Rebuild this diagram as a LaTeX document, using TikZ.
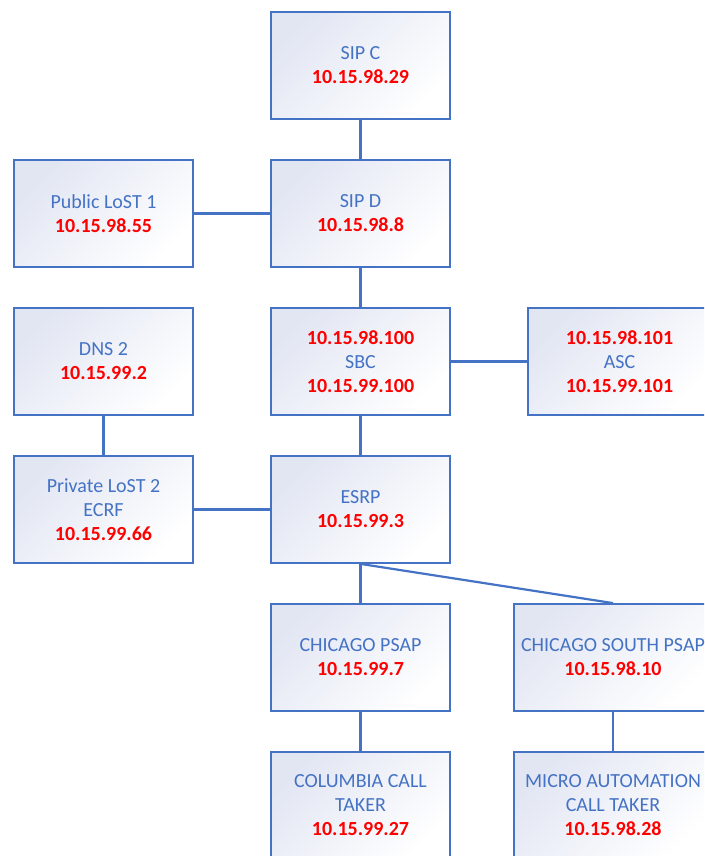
\documentclass[tikz,border=0pt]{standalone}
\usepackage{fontspec}
\setmainfont{Carlito}
\definecolor{boxblue}{HTML}{4472C4}
\definecolor{boxtint}{HTML}{E2E6F3}
\definecolor{ipred}{HTML}{FF0000}
\newcommand{\ip}[1]{\textcolor{ipred}{\textbf{#1}}}
\tikzset{
  unit/.style={draw=boxblue, line width=1.8pt, shading=axis, top color=boxtint,
    bottom color=white, shading angle=45, minimum width=179pt, minimum height=107pt,
    align=center, text=boxblue, font=\fontsize{20}{24}\selectfont, inner sep=0pt},
  link/.style={draw=boxblue, line width=2.2pt}
}
\begin{document}
\begin{tikzpicture}[x=1pt,y=-1pt]
  \path[use as bounding box, clip] (0,0) rectangle (704,856);
  % top row
  \node[unit] (sipc) at (360.5,65.5) {SIP C\\\ip{10.15.98.29}};
  \node[unit] (sipd) at (360.5,213.5) {SIP D\\\ip{10.15.98.8}};
  \node[unit] (lost1) at (103.5,213.5) {Public LoST 1\\\ip{10.15.98.55}};
  % middle
  \node[unit] (dns) at (103.5,361.5) {DNS 2\\\ip{10.15.99.2}};
  \node[unit] (sbc) at (360.5,361.5) {\ip{10.15.98.100}\\SBC\\\ip{10.15.99.100}};
  \node[unit, minimum width=183pt] (asc) at (619.5,361.5) {\ip{10.15.98.101}\\ASC\\\ip{10.15.99.101}};
  \node[unit] (lost2) at (103.5,509.5) {Private LoST 2\\ECRF\\\ip{10.15.99.66}};
  \node[unit] (esrp) at (360.5,509.5) {ESRP\\\ip{10.15.99.3}};
  % psaps
  \node[unit] (chipsap) at (360.5,657.5) {CHICAGO PSAP\\\ip{10.15.99.7}};
  \node[unit, minimum width=198pt] (southpsap) at (613,657.5) {CHICAGO SOUTH PSAP\\\ip{10.15.98.10}};
  \node[unit] (columbia) at (360.5,805.5) {COLUMBIA CALL\\TAKER\\\ip{10.15.99.27}};
  \node[unit, minimum width=198pt] (micro) at (613,805.5) {MICRO AUTOMATION\\CALL TAKER\\\ip{10.15.98.28}};
  % links
  \draw[link] (sipc) -- (sipd);
  \draw[link] (lost1) -- (sipd);
  \draw[link] (sipd) -- (sbc);
  \draw[link] (sbc) -- (asc);
  \draw[link] (dns) -- (lost2);
  \draw[link] (sbc) -- (esrp);
  \draw[link] (lost2) -- (esrp);
  \draw[link] (esrp) -- (chipsap);
  \draw[link] (esrp.south) -- (southpsap.north);
  \draw[link] (chipsap) -- (columbia);
  \draw[link] (southpsap) -- (micro);
\end{tikzpicture}
\end{document}
